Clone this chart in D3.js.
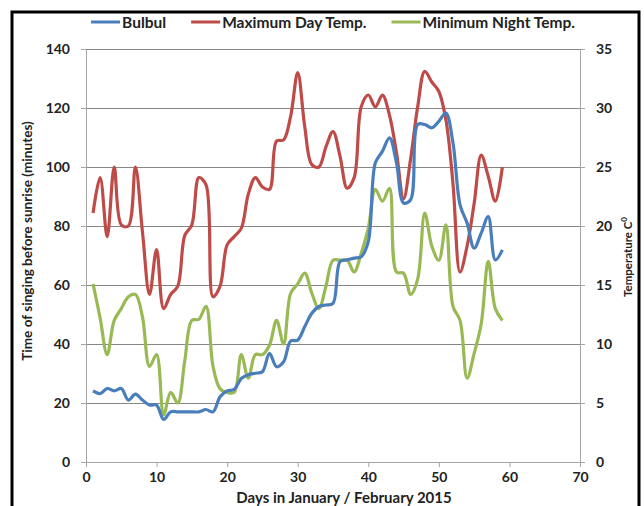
<!DOCTYPE html>
<html>
<head>
<meta charset="utf-8">
<script src="https://cdn.jsdelivr.net/npm/d3@7"></script>
<style>
  body { margin: 0; background: #fff; }
  text { font-family: Lato, "Liberation Sans", sans-serif; font-weight: bold; fill: #222; }
</style>
</head>
<body>
<div id="chart"></div>
<script>
// days 1..59
const days = d3.range(1, 60);

// Bulbul: time of singing before sunrise (minutes)
const bulbul = [24.1, 23.2, 24.9, 24.1, 24.9, 21.0, 23.0, 21.0, 19.3, 19.3,
  14.4, 17.0, 17.0, 17.0, 17.0, 17.0, 17.8, 17.0, 22.1, 24.1,
  24.6, 28.3, 29.6, 30.1, 30.6, 36.8, 32.3, 34.0, 41.0, 41.3,
  45.9, 50.4, 52.7, 53.2, 53.8, 67.9, 68.5, 69.1, 69.6, 74.7,
  101.4, 105.3, 109.9, 101.4, 87.8, 88.9, 114.4, 114.4, 113.3, 115.5,
  118.3, 108.2, 87.2, 81.0, 72.5, 77.6, 83.2, 68.5, 71.9];

// maximum day temperature (C)
const maxTemp = [21.1, 24.1, 19.1, 25.0, 20.1, 20.0, 25.0, 19.5, 14.2, 18.0,
  13.0, 14.2, 14.9, 19.2, 20.1, 24.1, 23.5, 14.0, 14.9, 18.4,
  19.1, 19.8, 22.7, 24.1, 23.3, 23.1, 27.2, 27.3, 29.3, 33.0,
  28.4, 25.2, 25.0, 26.7, 28.0, 25.9, 23.2, 24.1, 30.1, 31.1,
  30.1, 31.1, 29.4, 26.2, 22.3, 25.7, 30.1, 33.1, 32.2, 31.4,
  29.0, 23.6, 16.1, 18.3, 21.9, 26.0, 24.2, 22.1, 25.0];

// minimum night temperature (C)
const minTemp = [15.1, 12.2, 9.1, 12.0, 13.0, 14.0, 14.2, 12.3, 8.1, 9.1,
  4.0, 5.9, 5.0, 8.6, 12.0, 12.1, 13.2, 8.1, 6.2, 5.9,
  5.9, 9.1, 7.1, 9.1, 9.1, 9.9, 12.0, 10.0, 14.3, 15.1,
  16.0, 14.3, 13.0, 14.9, 17.1, 17.1, 17.1, 16.1, 17.7, 19.8,
  23.1, 22.1, 23.2, 16.1, 16.0, 14.2, 15.5, 21.1, 18.3, 17.1,
  20.1, 13.2, 12.0, 7.1, 9.2, 11.7, 17.0, 13.0, 12.0];

const xTicks = [0, 10, 20, 30, 40, 50, 60, 70];
const leftTicks = [0, 20, 40, 60, 80, 100, 120, 140];
const rightTicks = [0, 5, 10, 15, 20, 25, 30, 35];

const seriesNames = ["Bulbul", "Maximum Day Temp.", "Minimum Night Temp."];
const colors = ["#4a7ebb", "#be4b48", "#98b954"];

const W = 644, H = 506;
const plot = { left: 86, right: 580, top: 49, bottom: 462 };

const svg = d3.select("#chart").append("svg")
  .attr("width", W).attr("height", H);

// outer frame
svg.append("rect")
  .attr("x", 12).attr("y", 12)
  .attr("width", 627).attr("height", 520)
  .attr("fill", "none").attr("stroke", "#000").attr("stroke-width", 3);

const x = d3.scaleLinear().domain([0, 70]).range([plot.left, plot.right]);
const yL = d3.scaleLinear().domain([0, 140]).range([plot.bottom, plot.top]);
const yR = d3.scaleLinear().domain([0, 35]).range([plot.bottom, plot.top]);

// gridlines
svg.append("g")
  .selectAll("line")
  .data(leftTicks.slice(1))
  .join("line")
  .attr("x1", plot.left).attr("x2", plot.right)
  .attr("y1", d => Math.round(yL(d)) + 0.5).attr("y2", d => Math.round(yL(d)) + 0.5)
  .attr("stroke", "#868686").attr("stroke-width", 1);

// axes
const styleAxis = (g) => {
  g.select(".domain").attr("stroke", "#a6a6a6");
  g.selectAll(".tick line").attr("stroke", "#a6a6a6");
  g.selectAll(".tick text")
    .style("font-family", "Lato, 'Liberation Sans', sans-serif")
    .style("font-weight", "bold")
    .style("font-size", "14px")
    .attr("fill", "#222");
};

svg.append("g")
  .attr("transform", `translate(0, ${plot.bottom})`)
  .call(d3.axisBottom(x).tickValues(xTicks).tickSize(5).tickSizeOuter(0).tickPadding(5))
  .call(styleAxis);

svg.append("g")
  .attr("transform", `translate(${plot.left}, 0)`)
  .call(d3.axisLeft(yL).tickValues(leftTicks).tickSize(5).tickSizeOuter(0).tickPadding(11))
  .call(styleAxis);

svg.append("g")
  .attr("transform", `translate(${plot.right}, 0)`)
  .call(d3.axisRight(yR).tickValues(rightTicks).tickSize(5).tickSizeOuter(0).tickPadding(11))
  .call(styleAxis);

// lines
const lineL = d3.line()
  .x((d, i) => x(days[i]))
  .y(d => yL(d))
  .curve(d3.curveCatmullRom.alpha(0.5));

const lineR = d3.line()
  .x((d, i) => x(days[i]))
  .y(d => yR(d))
  .curve(d3.curveCatmullRom.alpha(0.5));

svg.append("path").datum(maxTemp)
  .attr("fill", "none").attr("stroke", colors[1]).attr("stroke-width", 3.2)
  .attr("stroke-linejoin", "round").attr("d", lineR);

svg.append("path").datum(minTemp)
  .attr("fill", "none").attr("stroke", colors[2]).attr("stroke-width", 3.2)
  .attr("stroke-linejoin", "round").attr("d", lineR);

svg.append("path").datum(bulbul)
  .attr("fill", "none").attr("stroke", colors[0]).attr("stroke-width", 3.2)
  .attr("stroke-linejoin", "round").attr("d", lineL);

// axis titles
svg.append("text")
  .attr("transform", `translate(32, 241) rotate(-90)`)
  .attr("text-anchor", "middle")
  .style("font-size", "13.6px")
  .text("Time of singing before sunrise (minutes)");

const rt = svg.append("text")
  .attr("transform", `translate(632, 257) rotate(-90)`)
  .attr("text-anchor", "middle")
  .style("font-size", "11.5px");
rt.append("tspan").text("Temperature C");
rt.append("tspan").attr("dy", -5).style("font-size", "8px").text("0");

svg.append("text")
  .attr("x", 344).attr("y", 503)
  .attr("text-anchor", "middle")
  .style("font-size", "15px")
  .text("Days in January / February 2015");

// legend
const legend = svg.append("g");
let lx = 0;
seriesNames.forEach((name, i) => {
  const item = legend.append("g").attr("transform", `translate(${lx}, 0)`);
  item.append("line")
    .attr("x1", 0).attr("x2", 29).attr("y1", 0).attr("y2", 0)
    .attr("stroke", colors[i]).attr("stroke-width", 3);
  const t = item.append("text")
    .attr("x", 31).attr("y", 5.5)
    .style("font-size", "15.5px")
    .text(name);
  lx += 31 + t.node().getComputedTextLength() + 25;
});
lx -= 25;
legend.attr("transform", `translate(${333 - lx / 2}, 22)`);
</script>
</body>
</html>
